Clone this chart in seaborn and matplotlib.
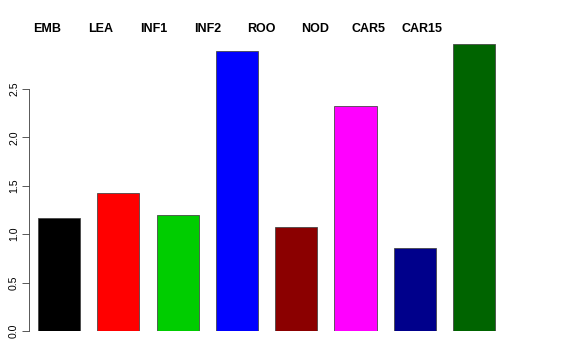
import matplotlib
matplotlib.use("Agg")
import matplotlib.pyplot as plt
import seaborn as sns

# data
samples = ["EMB", "LEA", "INF1", "INF2", "ROO", "NOD", "CAR5", "CAR15"]
values = [1.17, 1.43, 1.20, 2.89, 1.07, 2.32, 0.86, 2.97]
bar_colors = ["#000000", "#FF0000", "#00CD00", "#0000FF",
              "#8B0000", "#FF00FF", "#00008B", "#006400"]
yticks = [0.0, 0.5, 1.0, 1.5, 2.0, 2.5]

sns.set_style("white")
plt.rcParams['font.family'] = ['Liberation Sans', 'DejaVu Sans']

W, H = 576, 360
fig = plt.figure(figsize=(W / 72, H / 72), dpi=72)
# axes from pixel x 29..547, y 40..331 (y=0 at bottom)
ax = fig.add_axes([29 / W, (H - 331) / H, (547 - 29) / W, (331 - 40) / H])

sns.barplot(x=samples, y=values, hue=samples, palette=bar_colors,
            width=0.71, legend=False, edgecolor="#444444", linewidth=0.8,
            saturation=1, ax=ax)

ax.set_xlim(-0.506, -0.506 + (547 - 29) / 59.3)
ax.set_ylim(0, (331 - 40) / 96.8)
ax.set_xticks([])
ax.set_xlabel("")
ax.set_ylabel("")
ax.set_yticks(yticks)
ax.set_yticklabels([f"{t:.1f}" for t in yticks], rotation=90, va="center",
                   fontsize=10.5, color="black")
ax.tick_params(axis="y", left=True, length=7, width=0.8, color="#333333",
               pad=3)
for s in ["top", "right", "bottom"]:
    ax.spines[s].set_visible(False)
ax.spines["left"].set_bounds(0, 2.5)
ax.spines["left"].set_color("#333333")
ax.spines["left"].set_linewidth(0.8)

# sample names along the top
for i, name in enumerate(samples):
    fig.text((47 + i * 53.6) / W, 1 - 29 / H, name, ha="center", va="center",
             fontsize=12.5, fontweight="bold", color="black")

fig.savefig("out.png", dpi=72)
